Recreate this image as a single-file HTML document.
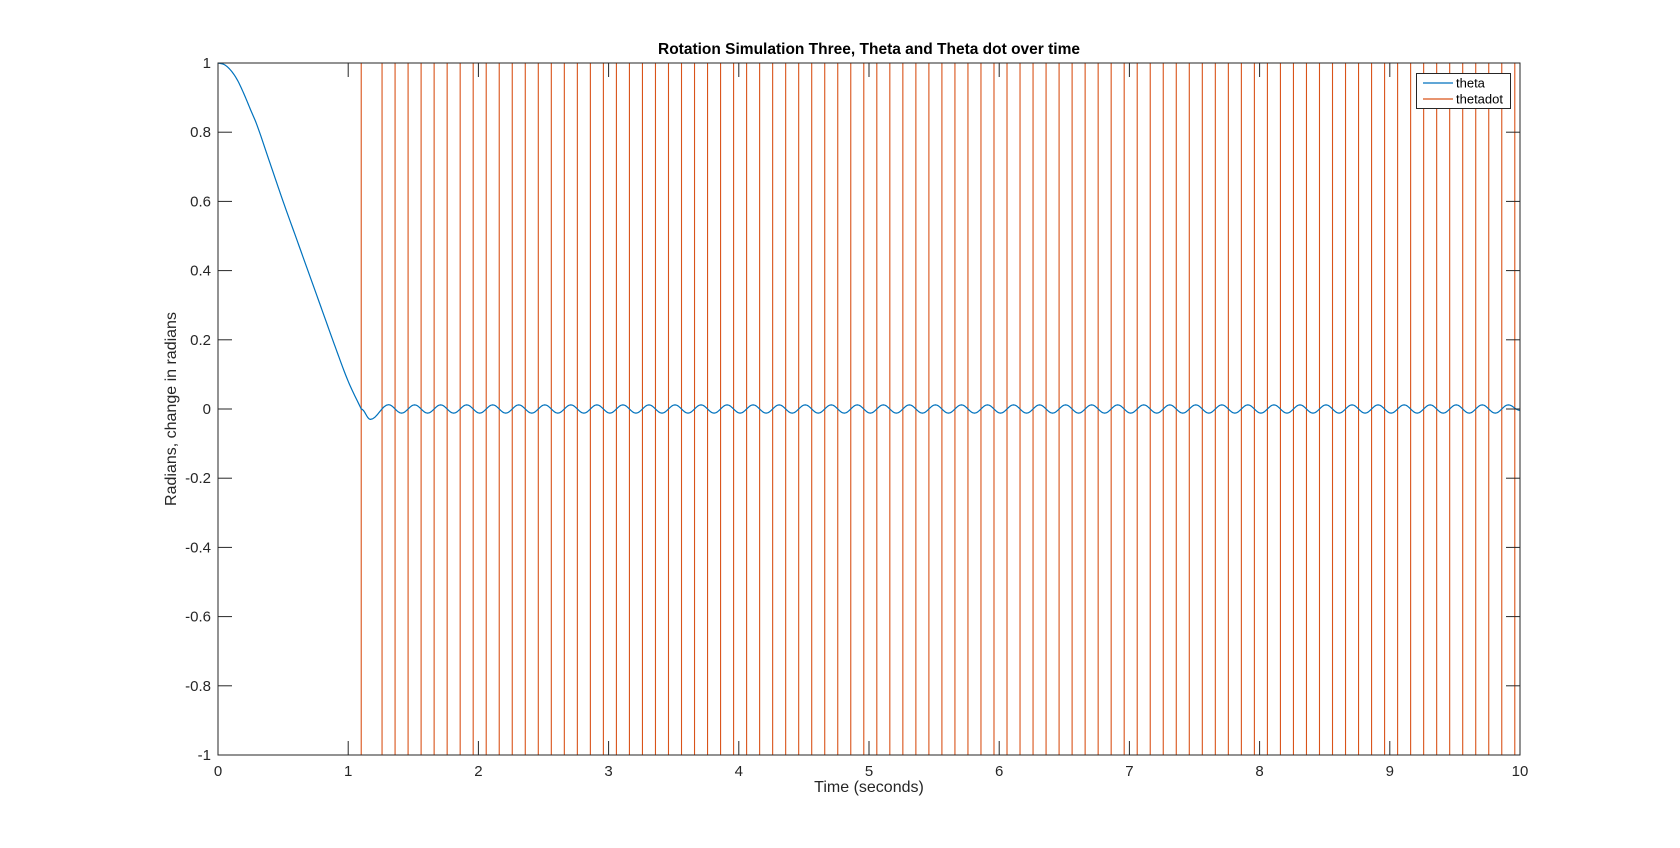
<!DOCTYPE html>
<html><head><meta charset="utf-8"><style>
html,body{margin:0;padding:0;background:#fff;}
svg{display:block;font-family:"Liberation Sans",sans-serif;}
</style></head><body>
<svg id="chart" width="1680" height="848" viewBox="0 0 1680 848" xmlns="http://www.w3.org/2000/svg">
<rect x="0" y="0" width="1680" height="848" fill="#fff"/>
<g id="plot"></g>
<text x="869" y="54" text-anchor="middle" font-size="15.5" font-weight="bold" fill="#000">Rotation Simulation Three, Theta and Theta dot over time</text>
<text x="869" y="792" text-anchor="middle" font-size="16" fill="#262626">Time (seconds)</text>
<text transform="translate(176,409) rotate(-90)" text-anchor="middle" font-size="16" fill="#262626">Radians, change in radians</text>
</svg>
<script>
const xTicks=[0,1,2,3,4,5,6,7,8,9,10];
const yTicks=[-1,-0.8,-0.6,-0.4,-0.2,0,0.2,0.4,0.6,0.8,1];
const yTickLabels=["-1","-0.8","-0.6","-0.4","-0.2","0","0.2","0.4","0.6","0.8","1"];
const thetaDescentT=[0,0.05,0.1,0.15,0.2,0.25,0.3,0.4,0.5,0.6,0.7,0.8,0.9,1.0,1.1];
const thetaDescentV=[1,0.995,0.978,0.95,0.91,0.865,0.82,0.71,0.60,0.495,0.39,0.285,0.18,0.08,0.0];
const thetaExtT=[1.17,1.31,1.41,1.51,1.61,1.71,1.81,1.91,2.01,2.11,2.21,2.31,2.41,2.51,2.61,2.71,2.81,2.91,3.01,3.11,3.21,3.31,3.41,3.51,3.61,3.71,3.81,3.91,4.01,4.11,4.21,4.31,4.41,4.51,4.61,4.71,4.81,4.91,5.01,5.11,5.21,5.31,5.41,5.51,5.61,5.71,5.81,5.91,6.01,6.11,6.21,6.31,6.41,6.51,6.61,6.71,6.81,6.91,7.01,7.11,7.21,7.31,7.41,7.51,7.61,7.71,7.81,7.91,8.01,8.11,8.21,8.31,8.41,8.51,8.61,8.71,8.81,8.91,9.01,9.11,9.21,9.31,9.41,9.51,9.61,9.71,9.81,9.91,10.0];
const thetaExtV=[-0.03,0.0125,-0.012,0.012,-0.012,0.012,-0.012,0.012,-0.012,0.012,-0.012,0.012,-0.012,0.012,-0.012,0.012,-0.012,0.012,-0.012,0.012,-0.012,0.012,-0.012,0.012,-0.012,0.012,-0.012,0.012,-0.012,0.012,-0.012,0.012,-0.012,0.012,-0.012,0.012,-0.012,0.012,-0.012,0.012,-0.012,0.012,-0.012,0.012,-0.012,0.012,-0.012,0.012,-0.012,0.012,-0.012,0.012,-0.012,0.012,-0.012,0.012,-0.012,0.012,-0.012,0.012,-0.012,0.012,-0.012,0.012,-0.012,0.012,-0.012,0.012,-0.012,0.012,-0.012,0.012,-0.012,0.012,-0.012,0.012,-0.012,0.012,-0.012,0.012,-0.012,0.012,-0.012,0.012,-0.012,0.012,-0.012,0.012,-0.004];
const thetadotRise=[1.10,1.36,1.56,1.76,1.96,2.16,2.36,2.56,2.76,2.96,3.16,3.36,3.56,3.76,3.96,4.16,4.36,4.56,4.76,4.96,5.16,5.36,5.56,5.76,5.96,6.16,6.36,6.56,6.76,6.96,7.16,7.36,7.56,7.76,7.96,8.16,8.36,8.56,8.76,8.96,9.16,9.36,9.56,9.76,9.96];
const thetadotFall=[1.26,1.46,1.66,1.86,2.06,2.26,2.46,2.66,2.86,3.06,3.26,3.46,3.66,3.86,4.06,4.26,4.46,4.66,4.86,5.06,5.26,5.46,5.66,5.86,6.06,6.26,6.46,6.66,6.86,7.06,7.26,7.46,7.66,7.86,8.06,8.26,8.46,8.66,8.86,9.06,9.26,9.46,9.66,9.86];

const L=218,R=1520,T=63,B=755;
const X=v=>L+(v-0)/(10-0)*(R-L);
const Y=v=>B-(v+1)/2*(B-T);
const NS="http://www.w3.org/2000/svg";
const plot=document.getElementById('plot');
function mk(tag,attrs,parent){const e=document.createElementNS(NS,tag);for(const k in attrs)e.setAttribute(k,attrs[k]);(parent||plot).appendChild(e);return e;}

// thetadot square wave
let ev=[];
thetadotRise.forEach(t=>ev.push([t,1]));
thetadotFall.forEach(t=>ev.push([t,-1]));
ev.sort((a,b)=>a[0]-b[0]);
let d="M"+X(0)+","+Y(-1);let cur=-1;
ev.forEach(([t,v])=>{d+=" L"+X(t).toFixed(2)+","+Y(cur).toFixed(2)+" L"+X(t).toFixed(2)+","+Y(v).toFixed(2);cur=v;});
d+=" L"+X(10)+","+Y(cur);
const td=mk('path',{d:d,fill:"none",stroke:"#D95319","stroke-width":"1.1"});



// theta: Catmull-Rom through descent samples
let pts=[];
const n=thetaDescentT.length;
for(let i=0;i<n-1;i++){
  const p0=Math.max(0,i-1),p3=Math.min(n-1,i+2);
  const t0=thetaDescentT[p0],t1=thetaDescentT[i],t2=thetaDescentT[i+1],t3=thetaDescentT[p3];
  const v0=thetaDescentV[p0],v1=thetaDescentV[i],v2=thetaDescentV[i+1],v3=thetaDescentV[p3];
  const m1=(v2-v0)/((t2-t0)||1)*(t2-t1),m2=(v3-v1)/((t3-t1)||1)*(t2-t1);
  for(let s=0;s<10;s++){const f=s/10,f2=f*f,f3=f2*f;
    const v=(2*f3-3*f2+1)*v1+(f3-2*f2+f)*m1+(-2*f3+3*f2)*v2+(f3-f2)*m2;
    pts.push([t1+(t2-t1)*f,v]);}
}
pts.push([thetaDescentT[n-1],thetaDescentV[n-1]]);
let pt=thetaDescentT[n-1],pv=thetaDescentV[n-1];
for(let i=0;i<thetaExtT.length;i++){
  const t1=thetaExtT[i],v1=thetaExtV[i];
  for(let s=1;s<=8;s++){const f=s/8;const w=(1-Math.cos(Math.PI*f))/2;pts.push([pt+(t1-pt)*f,pv+(v1-pv)*w]);}
  pt=t1;pv=v1;
}
let d2="M"+pts.map(p=>X(p[0]).toFixed(2)+","+Y(p[1]).toFixed(2)).join(" L");
const th=mk('path',{d:d2,fill:"none",stroke:"#0072BD","stroke-width":"1.2","stroke-linejoin":"round"});



// axes box
const box=mk('rect',{x:L,y:T,width:R-L,height:B-T,fill:"none",stroke:"#262626","stroke-width":"1"});



xTicks.forEach(v=>{
  const x=X(v);
  const t1=mk('line',{x1:x,y1:B,x2:x,y2:B-14,stroke:"#262626"});
  
  
  const t2=mk('line',{x1:x,y1:T,x2:x,y2:T+14,stroke:"#262626"});
  
  
  const lb=mk('text',{x:x,y:B+21,"text-anchor":"middle","font-size":"15",fill:"#262626"});
  lb.textContent=String(v);
  
  
});
yTicks.forEach((v,i)=>{
  const y=Y(v);
  const t1=mk('line',{x1:L,y1:y,x2:L+14,y2:y,stroke:"#262626"});
  
  
  const t2=mk('line',{x1:R,y1:y,x2:R-14,y2:y,stroke:"#262626"});
  
  
  const lb=mk('text',{x:L-7,y:y+5,"text-anchor":"end","font-size":"15",fill:"#262626"});
  lb.textContent=yTickLabels[i];
  
  
});

// legend
const lg=mk('g',{});


const lr=mk('rect',{x:1416.5,y:73.5,width:94,height:35,fill:"#fff",stroke:"#262626","stroke-width":"1"},lg);


[["theta","#0072BD",83],["thetadot","#D95319",99]].forEach(([nm,c,y])=>{
  const ln=mk('line',{x1:1423,y1:y,x2:1453,y2:y,stroke:c,"stroke-width":"1.2"},lg);
  
  
  const tx=mk('text',{x:1456,y:y+4.5,"font-size":"13",fill:"#000"},lg);
  tx.textContent=nm;
  
  
});
</script>
</body></html>
